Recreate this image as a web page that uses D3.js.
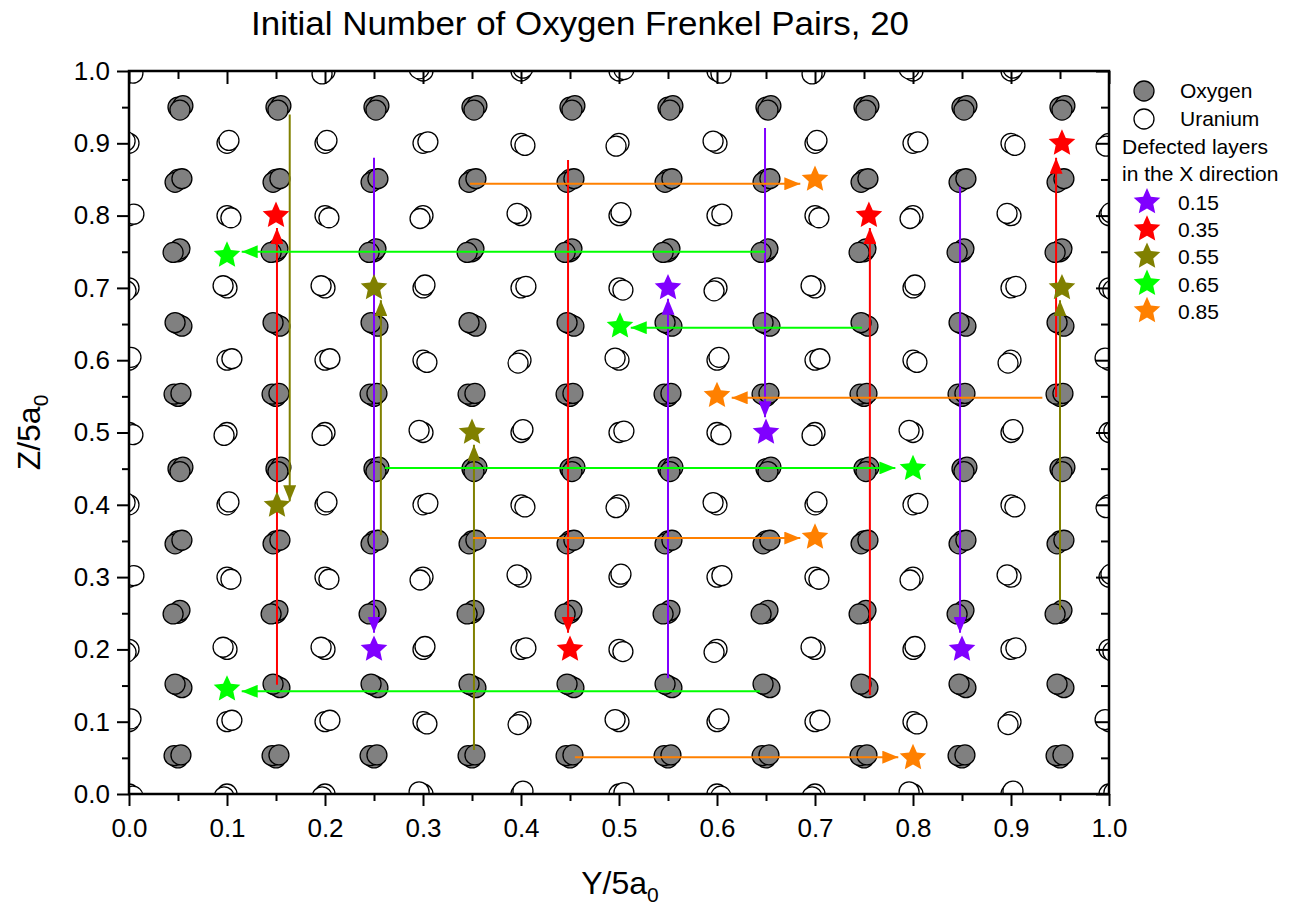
<!DOCTYPE html>
<html>
<head>
<meta charset="utf-8">
<script src="https://cdn.jsdelivr.net/npm/d3@7"></script>
<style>
  body { margin: 0; background: #fff; }
  text { font-family: Arial, "Liberation Sans", sans-serif; fill: #000; }
</style>
</head>
<body>
<svg id="chart" width="1291" height="909"></svg>
<script>
// lattice sites (Y/5a0 and Z/5a0)
const oxygenCoords = [0.05, 0.15, 0.25, 0.35, 0.45, 0.55, 0.65, 0.75, 0.85, 0.95];
const uraniumCoords = [0.0, 0.1, 0.2, 0.3, 0.4, 0.5, 0.6, 0.7, 0.8, 0.9, 1.0];
const uraniumMissing = [[0.1, 1.0], [1.0, 1.0]];
// small displacements of the overlapping atoms of one column
const siteShifts = [
  [[0, 0], [0.004, -0.003], [-0.003, 0.002]],
  [[0, 0], [-0.004, 0.003], [0.003, 0.004]],
  [[0, 0], [0.005, 0.002], [0.002, -0.004]],
  [[0, 0], [-0.003, -0.004], [0.004, 0.001]],
  [[0, 0], [0.002, 0.004], [-0.005, -0.001]]
];

const layers = ["0.15", "0.35", "0.55", "0.65", "0.85"];
const layerColors = ["#8000ff", "#ff0000", "#808000", "#00ff00", "#ff8000"];

// Frenkel pairs: start of the arrow (vacancy), arrow tip, interstitial star
const starts015 = [[0.55, 0.16], [0.649, 0.921], [0.25, 0.88], [0.848, 0.84]];
const tips015   = [[0.55, 0.685], [0.649, 0.521], [0.25, 0.223], [0.848, 0.223]];
const stars015  = [[0.55, 0.70], [0.65, 0.50], [0.25, 0.20], [0.85, 0.20]];

const starts035 = [[0.151, 0.151], [0.946, 0.549], [0.756, 0.137], [0.448, 0.877]];
const tips035   = [[0.151, 0.783], [0.946, 0.88], [0.756, 0.783], [0.448, 0.223]];
const stars035  = [[0.15, 0.80], [0.952, 0.90], [0.755, 0.80], [0.45, 0.20]];

const starts055 = [[0.164, 0.94], [0.257, 0.358], [0.352, 0.061], [0.95, 0.255]];
const tips055   = [[0.164, 0.405], [0.257, 0.683], [0.352, 0.483], [0.95, 0.683]];
const stars055  = [[0.151, 0.399], [0.25, 0.70], [0.35, 0.50], [0.952, 0.70]];

const starts065 = [[0.649, 0.75], [0.748, 0.645], [0.261, 0.451], [0.644, 0.142]];
const tips065   = [[0.115, 0.75], [0.512, 0.645], [0.782, 0.451], [0.115, 0.142]];
const stars065  = [[0.10, 0.745], [0.501, 0.647], [0.80, 0.45], [0.10, 0.145]];

const starts085 = [[0.348, 0.844], [0.932, 0.548], [0.351, 0.354], [0.455, 0.051]];
const tips085   = [[0.685, 0.844], [0.615, 0.548], [0.685, 0.354], [0.785, 0.051]];
const stars085  = [[0.70, 0.85], [0.600, 0.551], [0.70, 0.355], [0.80, 0.05]];

const layerStarts = [starts015, starts035, starts055, starts065, starts085];
const layerTips = [tips015, tips035, tips055, tips065, tips085];
const layerStars = [stars015, stars035, stars055, stars065, stars085];

const xTickValues = [0.0, 0.1, 0.2, 0.3, 0.4, 0.5, 0.6, 0.7, 0.8, 0.9, 1.0];
const minorTickValues = [0.05, 0.15, 0.25, 0.35, 0.45, 0.55, 0.65, 0.75, 0.85, 0.95];

const margin = { top: 71, right: 182, bottom: 115, left: 129 };
const width = 1291, height = 909;

const svg = d3.select("#chart");
const x = d3.scaleLinear([0, 1], [margin.left, width - margin.right]);
const y = d3.scaleLinear([0, 1], [height - margin.bottom, margin.top]);

svg.append("defs").append("clipPath").attr("id", "plotClip")
  .append("rect")
  .attr("x", x(0)).attr("y", y(1))
  .attr("width", x(1) - x(0)).attr("height", y(0) - y(1));

const defs = svg.select("defs");
layerColors.forEach((c, i) => {
  defs.append("marker")
    .attr("id", "head" + i)
    .attr("viewBox", "0 0 16 13")
    .attr("refX", 16).attr("refY", 6.5)
    .attr("markerWidth", 16).attr("markerHeight", 13)
    .attr("markerUnits", "userSpaceOnUse")
    .attr("orient", "auto")
    .append("path").attr("d", "M0,0L16,6.5L0,13Z").attr("fill", c);
});

// fat five-point star, size = outer radius squared
const fatStar = {
  draw(ctx, size) {
    const R = Math.sqrt(size), r = R * 0.47;
    for (let k = 0; k < 10; k++) {
      const a = -Math.PI / 2 + k * Math.PI / 5;
      const rr = k % 2 ? r : R;
      if (k === 0) ctx.moveTo(rr * Math.cos(a), rr * Math.sin(a));
      else ctx.lineTo(rr * Math.cos(a), rr * Math.sin(a));
    }
    ctx.closePath();
  }
};

// atoms
const atoms = svg.append("g").attr("clip-path", "url(#plotClip)");

const oxygenSites = [];
oxygenCoords.forEach(a => oxygenCoords.forEach(b => oxygenSites.push([a, b])));
const uraniumSites = [];
uraniumCoords.forEach(a => uraniumCoords.forEach(b => {
  if (!uraniumMissing.some(m => m[0] === a && m[1] === b)) uraniumSites.push([a, b]);
}));

function drawSites(sites, fill, copies) {
  sites.forEach((s, i) => {
    const shifts = siteShifts[(i * 3 + Math.round(s[1] * 10)) % siteShifts.length].slice(0, copies);
    atoms.append("g").selectAll("circle")
      .data(shifts)
      .join("circle")
        .attr("cx", d => x(s[0] + d[0]))
        .attr("cy", d => y(s[1] + d[1]))
        .attr("r", 10)
        .attr("fill", fill)
        .attr("stroke", "#000")
        .attr("stroke-width", 1.3);
  });
}
drawSites(uraniumSites, "#fff", 2);
drawSites(oxygenSites, "#808080", 3);

// Frenkel pair arrows and interstitials
const star = d3.symbol(fatStar, 196);
const defects = svg.append("g");
layers.forEach((l, i) => {
  defects.append("g").selectAll("line")
    .data(layerStarts[i])
    .join("line")
      .attr("x1", d => x(d[0]))
      .attr("y1", d => y(d[1]))
      .attr("x2", (d, j) => x(layerTips[i][j][0]))
      .attr("y2", (d, j) => y(layerTips[i][j][1]))
      .attr("stroke", layerColors[i])
      .attr("stroke-width", 2)
      .attr("marker-end", `url(#head${i})`);
});
layers.forEach((l, i) => {
  defects.append("g").selectAll("path")
    .data(layerStars[i])
    .join("path")
      .attr("d", star)
      .attr("transform", d => `translate(${x(d[0])},${y(d[1])})`)
      .attr("fill", layerColors[i]);
});

// axes
const axisW = 2.5;
function styleAxis(g) {
  g.select(".domain").remove();
  g.selectAll(".tick line").attr("stroke", "#000").attr("stroke-width", 2);
  g.selectAll(".tick text").attr("font-size", 26).attr("fill", "#000");
}
svg.append("g").attr("transform", `translate(0,${y(0)})`)
  .call(d3.axisBottom(x).tickValues(xTickValues).tickSize(12).tickPadding(10).tickFormat(d3.format(".1f")))
  .call(styleAxis)
  .call(g => g.selectAll(".tick text").attr("dy", "0.8em"));
svg.append("g").attr("transform", `translate(0,${y(0)})`)
  .call(d3.axisBottom(x).tickValues(minorTickValues).tickSize(7).tickFormat(""))
  .call(styleAxis);
svg.append("g").attr("transform", `translate(${x(0)},0)`)
  .call(d3.axisLeft(y).tickValues(xTickValues).tickSize(12).tickPadding(7).tickFormat(d3.format(".1f")))
  .call(styleAxis);
svg.append("g").attr("transform", `translate(${x(0)},0)`)
  .call(d3.axisLeft(y).tickValues(minorTickValues).tickSize(7).tickFormat(""))
  .call(styleAxis);
svg.append("g").attr("transform", `translate(0,${y(1)})`)
  .call(d3.axisTop(x).tickValues(xTickValues).tickSize(-13).tickFormat(""))
  .call(styleAxis);
svg.append("g").attr("transform", `translate(0,${y(1)})`)
  .call(d3.axisTop(x).tickValues(minorTickValues).tickSize(-8).tickFormat(""))
  .call(styleAxis);
svg.append("g").attr("transform", `translate(${x(1)},0)`)
  .call(d3.axisRight(y).tickValues(xTickValues).tickSize(-13).tickFormat(""))
  .call(styleAxis);
svg.append("g").attr("transform", `translate(${x(1)},0)`)
  .call(d3.axisRight(y).tickValues(minorTickValues).tickSize(-8).tickFormat(""))
  .call(styleAxis);

svg.append("rect")
  .attr("x", x(0)).attr("y", y(1))
  .attr("width", x(1) - x(0)).attr("height", y(0) - y(1))
  .attr("fill", "none").attr("stroke", "#000").attr("stroke-width", axisW);

// titles
svg.append("text")
  .attr("x", 580).attr("y", 35)
  .attr("text-anchor", "middle")
  .attr("font-size", 33)
  .attr("textLength", 658)
  .attr("lengthAdjust", "spacingAndGlyphs")
  .text("Initial Number of Oxygen Frenkel Pairs, 20");

const xl = svg.append("text")
  .attr("x", 620).attr("y", 894)
  .attr("text-anchor", "middle")
  .attr("font-size", 32);
xl.append("tspan").text("Y/5a");
xl.append("tspan").attr("font-size", 21).attr("dy", 8).text("0");

const yl = svg.append("text")
  .attr("transform", `translate(40,${(y(0) + y(1)) / 2}) rotate(-90)`)
  .attr("text-anchor", "middle")
  .attr("font-size", 32);
yl.append("tspan").text("Z/5a");
yl.append("tspan").attr("font-size", 21).attr("dy", 8).text("0");

// legend
const lg = svg.append("g");
const lx = 1144, tx = 1180;
lg.append("circle").attr("cx", lx).attr("cy", 91).attr("r", 10)
  .attr("fill", "#808080").attr("stroke", "#000").attr("stroke-width", 1.3);
lg.append("text").attr("x", tx).attr("y", 98).attr("font-size", 21).text("Oxygen");
lg.append("circle").attr("cx", lx).attr("cy", 119).attr("r", 10)
  .attr("fill", "#fff").attr("stroke", "#000").attr("stroke-width", 1.3);
lg.append("text").attr("x", tx).attr("y", 126).attr("font-size", 21).text("Uranium");
lg.append("text").attr("x", 1122).attr("y", 154).attr("font-size", 21).text("Defected layers");
lg.append("text").attr("x", 1122).attr("y", 181).attr("font-size", 21).text("in the X direction");
layers.forEach((l, i) => {
  const cy = 202 + i * 27.2;
  lg.append("path").attr("d", star)
    .attr("transform", `translate(${lx + 3},${cy})`)
    .attr("fill", layerColors[i]);
  lg.append("text").attr("x", tx - 2).attr("y", cy + 8).attr("font-size", 21).text(l);
});
</script>
</body>
</html>
